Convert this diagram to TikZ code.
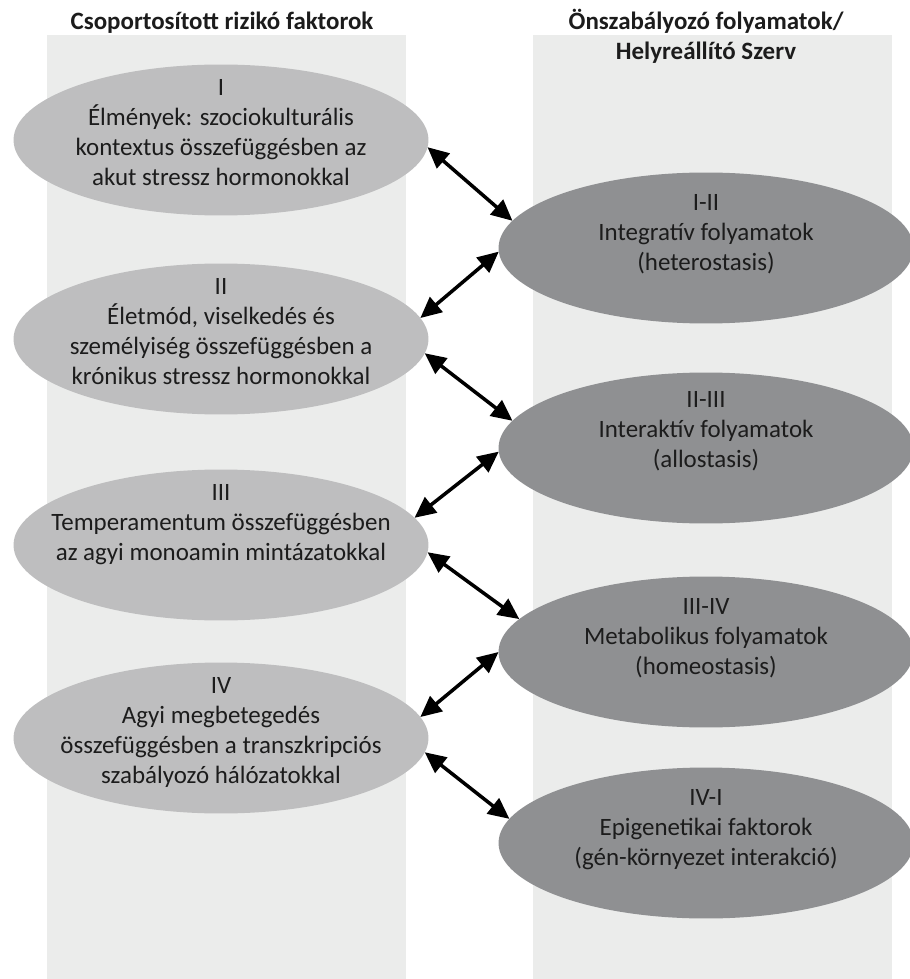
\documentclass[tikz,border=0pt]{standalone}
\usepackage{fontspec}
\setmainfont{Carlito}
\usetikzlibrary{positioning, arrows.meta, shapes.geometric}
\definecolor{colbg}{RGB}{235, 236, 235}
\definecolor{riskcolor}{RGB}{190, 190, 191}
\definecolor{proccolor}{RGB}{143, 144, 146}
\definecolor{txtcolor}{RGB}{28, 28, 28}

\begin{document}
\begin{tikzpicture}[
  x=0.02cm, y=-0.02cm,
  >={Triangle[length=12pt, width=11pt]},
  % --- Styles ---
  ebox/.style={
    ellipse, fill=#1, draw=none, inner sep=0pt, outer sep=0pt,
    minimum width=8.3cm, minimum height=3.02cm},
  etxt/.style={
    align=center, inner sep=0pt, text=txtcolor,
    font=\fontsize{14.2}{17}\selectfont},
  hdr/.style={
    align=center, inner sep=0pt, text=txtcolor,
    font=\fontsize{14.2}{17}\selectfont\bfseries},
  myarr/.style={<->, line width=2pt, black},
]
\useasboundingbox (0,0) rectangle (909,979);
% === COLUMNS ===
\fill[colbg] (47,35) rectangle (406,979);
\fill[colbg] (533,35) rectangle (892,979);
% headers
\node[hdr] (HL) at (222,23) {Csoportosított rizikó faktorok};
\node[hdr] (HR) at (706,36) {Önszabályozó folyamatok/\\Helyreállító Szerv};

% === NODES ===
% 1. Risk factors (left)
\node[ebox=riskcolor] (L1) at (221,140) {};
\node[ebox=riskcolor] (L2) at (221,339) {};
\node[ebox=riskcolor] (L3) at (221,545) {};
\node[ebox=riskcolor] (L4) at (221,738) {};
\node[etxt, below=0.3cm of L1.north] (L1t) {%
  I\\Élmények: szociokulturális\\kontextus összefüggésben az\\akut stressz hormonokkal};
\node[etxt, below=0.3cm of L2.north] (L2t) {%
  II\\Életmód, viselkedés és\\személyiség összefüggésben a\\krónikus stressz hormonokkal};
\node[etxt, below=0.3cm of L3.north] (L3t) {%
  III\\Temperamentum összefüggésben\\az agyi monoamin mintázatokkal};
\node[etxt, below=0.3cm of L4.north] (L4t) {%
  IV\\Agyi megbetegedés\\összefüggésben a transzkripciós\\szabályozó hálózatokkal};
% 2. Processes (right)
\node[ebox=proccolor] (R1) at (706,248) {};
\node[ebox=proccolor] (R2) at (706,448) {};
\node[ebox=proccolor] (R3) at (706,652) {};
\node[ebox=proccolor] (R4) at (706,843) {};
\node[etxt, below=0.44cm of R1.north] (R1t) {%
  I-II\\Integratív folyamatok\\(heterostasis)};
\node[etxt, below=0.38cm of R2.north] (R2t) {%
  II-III\\Interaktív folyamatok\\(allostasis)};
\node[etxt, below=0.44cm of R3.north] (R3t) {%
  III-IV\\Metabolikus folyamatok\\(homeostasis)};
\node[etxt, below=0.44cm of R4.north] (R4t) {%
  IV-I\\Epigenetikai faktorok\\(gén-környezet interakció)};

% === ARROWS ===
\draw[myarr] (L1.-2) -- (R1.172);
\draw[myarr] (L2.6) -- (R1.181);
\draw[myarr] (L2.-4) -- (R2.172);
\draw[myarr] (L3.8) -- (R2.181);
\draw[myarr] (L3.-2) -- (R3.170);
\draw[myarr] (L4.6) -- (R3.180);
\draw[myarr] (L4.-4) -- (R4.173);
\end{tikzpicture}
\end{document}
